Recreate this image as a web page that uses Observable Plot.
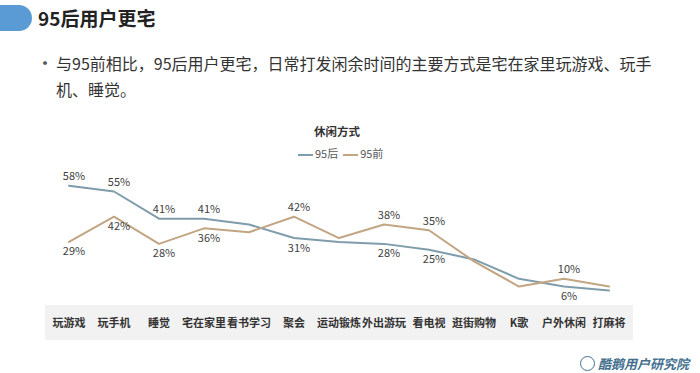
<!DOCTYPE html>
<html><head><meta charset="utf-8">
<script src="https://cdn.jsdelivr.net/npm/d3@7"></script>
<script src="https://cdn.jsdelivr.net/npm/@observablehq/plot@0.6"></script>
<style>
body{margin:0;background:#fff;font-family:"Noto Sans CJK SC","Noto Sans",sans-serif;}
#wrap{position:relative;width:700px;height:373px;overflow:hidden;}
.abs{position:absolute;}
#pill{left:-14px;top:5px;width:46px;height:26px;border-radius:13px;background:#5b9bd5;}
#title{left:38px;top:4px;font-size:19px;font-weight:bold;color:#222;white-space:nowrap;}
#bullet{left:36px;top:49px;font-size:18px;color:#555;}
#body{left:56px;top:50px;font-size:16px;line-height:26px;color:#333;white-space:nowrap;}
#ctitle{left:0;width:674px;top:123px;text-align:center;font-size:11.5px;font-weight:bold;color:#333;}
#legend{left:298px;top:145px;font-size:11px;color:#595959;white-space:nowrap;}
#legend span.sw{display:inline-block;width:15px;height:2px;vertical-align:middle;margin-right:2px;}
#band{left:45px;top:305px;width:588px;height:35px;background:#f2f2f2;}
#chart{left:0;top:160px;}
#logo{left:580px;top:354px;font-size:13px;font-weight:bold;font-style:italic;color:#44708f;white-space:nowrap;}
#logo .ic{display:inline-block;width:13px;height:13px;border:1.5px solid #44708f;border-radius:50%;vertical-align:-2px;margin-right:3px;}
</style></head>
<body><div id="wrap">
<div id="pill" class="abs"></div>
<div id="title" class="abs">95后用户更宅</div>
<div id="bullet" class="abs">•</div>
<div id="body" class="abs">与95前相比，95后用户更宅，日常打发闲余时间的主要方式是宅在家里玩游戏、玩手<br>机、睡觉。</div>
<div id="ctitle" class="abs">休闲方式</div>
<div id="legend" class="abs"><span class="sw" style="background:#7f9cab"></span>95后&nbsp;&nbsp;<span class="sw" style="background:#c2a582"></span>95前</div>
<div id="band" class="abs"></div>
<div id="chart" class="abs"></div>
<div id="logo" class="abs"><span class="ic"></span>酷鹅用户研究院</div>
</div>
<script>
const categories = ["玩游戏","玩手机","睡觉","宅在家里","看书学习","聚会","运动锻炼","外出游玩","看电视","逛街购物","K歌","户外休闲","打麻将"];
const after95 = [58,55,41,41,38,31,29,28,25,20,10,6,4];
const before95 = [29,42,28,36,34,42,31,38,35,19,6,10,6];
const labeled = ["玩游戏","玩手机","睡觉","宅在家里","聚会","外出游玩","看电视","户外休闲"];
const seriesNames = ["95后","95前"];
const colors = ["#7f9cab","#c2a582"];

const rows = [];
categories.forEach((c,i)=>{
  rows.push({cat:c, series:"95后", v:after95[i], other:before95[i]});
  rows.push({cat:c, series:"95前", v:before95[i], other:after95[i]});
});
const lab = rows.filter(d=>labeled.includes(d.cat));
const above = lab.filter(d=>d.v>=d.other);
const below = lab.filter(d=>d.v<d.other);

const chart = Plot.plot({
  width:700, height:185,
  marginLeft:43, marginRight:67, marginTop:21.3, marginBottom:47.3,
  x:{type:"band", domain:categories, padding:0},
  y:{domain:[0,60], axis:null},
  color:{domain:seriesNames, range:colors},
  style:{fontFamily:"'Noto Sans CJK SC','Noto Sans',sans-serif", background:"transparent"},
  marks:[
    Plot.axisX({tickSize:0, tickPadding:21, fontSize:11, fontWeight:"bold", fill:"#333", label:null}),
    Plot.line(rows, {x:"cat", y:"v", z:"series", stroke:"series", strokeWidth:2}),
    Plot.text(above, {x:"cat", y:"v", text:d=>d.v+"%", dy:-9, dx:5, fontSize:11, fill:"#404040"}),
    Plot.text(below, {x:"cat", y:"v", text:d=>d.v+"%", dy:10, dx:5, fontSize:11, fill:"#404040"})
  ]
});
document.getElementById("chart").appendChild(chart);
</script>
</body></html>
